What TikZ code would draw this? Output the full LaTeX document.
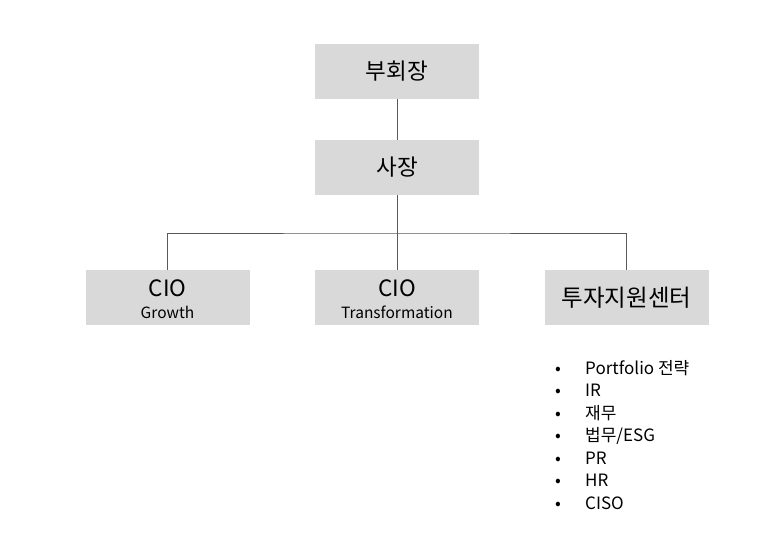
\documentclass[tikz,border=0pt]{standalone}
\usepackage{fontspec}
\setmainfont{Noto Sans CJK KR}
\usepackage{xcolor}
\usetikzlibrary{positioning}
\definecolor{boxgray}{HTML}{D9D9D9}
\definecolor{linegray}{HTML}{595959}

\begin{document}
\begin{tikzpicture}[x=1pt, y=-1pt,
    orgbox/.style={fill=boxgray, minimum width=164pt, minimum height=55pt, inner sep=0pt, font=\fontsize{22.5}{25}\selectfont},
    sub/.style={font=\fontsize{15.5}{17}\selectfont},
    item/.style={anchor=west, inner sep=0pt, font=\fontsize{17}{19}\selectfont},
    link/.style={draw=linegray, line width=0.8pt}]
            \useasboundingbox (0,0) rectangle (766,536);
            \draw (397,71.5) node[orgbox]                  (vc) {부회장};
            \draw (397,167.5) node[orgbox]                 (ceo) {사장};
            \draw (167.5,297.5) node[orgbox]               (growth) {};
            \draw (397,297.5) node[orgbox]                 (trans) {};
            \draw (626.5,297.5) node[orgbox, font=\fontsize{23.5}{26}\selectfont] (support) {투자지원센터};
            \draw (167.5,288) node                         (gcio) {\fontsize{22.5}{25}\selectfont CIO};
            \draw (167.5,312.5) node[sub]                  (gname) {Growth};
            \draw (397,288) node                           (tcio) {\fontsize{22.5}{25}\selectfont CIO};
            \draw (397,312.5) node[sub]                    (tname) {Transformation};
            \coordinate (j) at (397,233);
            \draw[link] (vc) -- (ceo);
            \draw[link] (ceo) -- (j);
            \draw[link] (j) -- (trans);
            \draw[link] (growth.north) |- (j) -| (support.north);

            \draw (555,368) node[item]   (i1) {\makebox[30pt][l]{•}Portfolio 전략};
            \draw (555,390.5) node[item] (i2) {\makebox[30pt][l]{•}IR};
            \draw (555,413) node[item]   (i3) {\makebox[30pt][l]{•}재무};
            \draw (555,435.5) node[item] (i4) {\makebox[30pt][l]{•}법무/ESG};
            \draw (555,458) node[item]   (i5) {\makebox[30pt][l]{•}PR};
            \draw (555,480.5) node[item] (i6) {\makebox[30pt][l]{•}HR};
            \draw (555,503) node[item]   (i7) {\makebox[30pt][l]{•}CISO};
            \end{tikzpicture}
\end{document}
